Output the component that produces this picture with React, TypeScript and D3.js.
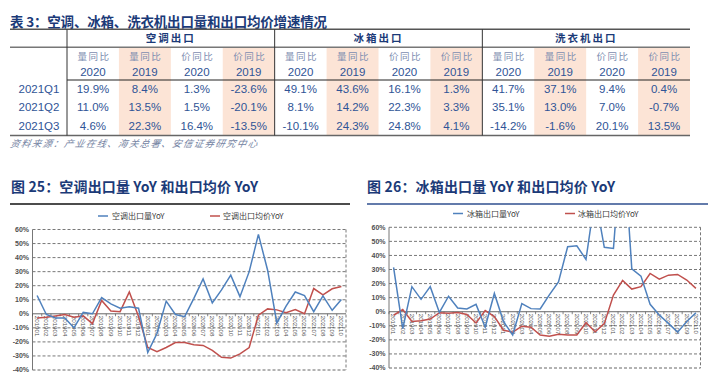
import React from "react";
import * as d3 from "d3";

const tableTitle = "表 3：空调、冰箱、洗衣机出口量和出口均价增速情况";
const tableGroups = ["空调出口", "冰箱出口", "洗衣机出口"];
const subMetrics = ["量同比", "量同比", "价同比", "价同比"];
const subYears = ["2020", "2019", "2020", "2019"];
const rowLabels = ["2021Q1", "2021Q2", "2021Q3"];
const acTable = [
  [19.9, 8.4, 1.3, -23.6],
  [11.0, 13.5, 1.5, -20.1],
  [4.6, 22.3, 16.4, -13.5],
];
const fridgeTable = [
  [49.1, 43.6, 16.1, 1.3],
  [8.1, 14.2, 22.3, 3.3],
  [-10.1, 24.3, 24.8, 4.1],
];
const washerTable = [
  [41.7, 37.1, 9.4, 0.4],
  [35.1, 13.0, 7.0, -0.7],
  [-14.2, -1.6, 20.1, 13.5],
];
const sourceText = "资料来源：产业在线、海关总署、安信证券研究中心";

const months = [
  "201901", "201902", "201903", "201904", "201905", "201906", "201907", "201908", "201909", "201910", "201911", "201912",
  "202001", "202002", "202003", "202004", "202005", "202006", "202007", "202008", "202009", "202010", "202011", "202012",
  "202101", "202102", "202103", "202104", "202105", "202106", "202107", "202108", "202109", "202110",
];
const yTicks = [60, 50, 40, 30, 20, 10, 0, -10, -20, -30, -40];

const chart1Title = "图 25：空调出口量 YoY 和出口均价 YoY";
const acVolumeName = "空调出口量YoY";
const acPriceName = "空调出口均价YoY";
const acVolume = [13, -0.5, -3, -3, -10, 1, 0, 11.5, 7, 4, 5, 4, -27.5, -14, 9, -0.5, -2, 11, 24.8, 7.8, 17, 27.5, 12.2, 30, 56.5, 31, -6.5, 5.5, 15.5, 13, 1.5, 12.7, 2.5, 10.2];
const acPrice = [-3, -2.5, -1.5, -0.5, -2.5, -1.5, -7, 9.5, 2, 1.5, 15.5, -2, -24, -27, -24, -20.5, -20.5, -22, -22.5, -26, -31, -31.5, -28.5, -24, -1, 3.5, 2.8, 0.8, 3, 0, 18, 13.5, 17.8, 19.5];

const chart2Title = "图 26：冰箱出口量 YoY 和出口均价 YoY";
const frVolumeName = "冰箱出口量YoY";
const frPriceName = "冰箱出口均价YoY";
const frVolume = [31.5, -12, 17.8, 8.8, 17.8, -0.5, 11, 2.7, 2, 5.2, -11, 13, -7, -16.5, 5.8, 2.2, 2, 12, 21.2, 46.2, 46.8, 37.2, 82, 45.8, 45, 130, 30.5, 25.3, 5.3, -2.4, -8.3, -14.5, -7, -0.7];
const frPrice = [-2.5, 1.5, -7, -6.4, -5.2, -0.7, -1, -0.5, -2, -8, 0.8, -3.5, -13.2, -14.5, -10.3, -11, -16.6, -17.5, -16, -16.5, -16.5, -7.8, -14.3, -8.5, 11.8, 22.3, 16.1, 17.8, 27.2, 23.2, 26, 26.5, 22.5, 16.6];

const CJK = "'Noto Sans CJK SC', sans-serif";
const LAT = "'Liberation Sans', Arial, sans-serif";
const NAVY = "#1b3a78";
const NUM = "#2f5496";
const SUB = "#7c8db0";
const BLUE = "#4f81bd";
const RED = "#c0504d";

function Table() {
  const left = 10, right = 690, labelW = 57;
  const groupX = d3.scaleBand<number>().domain([0, 1, 2]).range([left + labelW, right]);
  const gw = groupX.bandwidth();
  const colW = gw / 4;
  const rowY = d3.scaleOrdinal<string, number>().domain(rowLabels).range([88.3, 106.8, 125.6]);
  const tables = [acTable, fridgeTable, washerTable];
  return (
    <g>
      <text x={10} y={26.5} fontFamily={CJK} fontWeight={700} fontSize={13.5} fill={NAVY} textLength={317} lengthAdjust="spacing">{tableTitle}</text>
      {tableGroups.map((g, gi) => {
        const gx = groupX(gi)!;
        return (
          <g key={g}>
            {[1, 3].map((ci) => (
              <rect key={ci} x={gx + ci * colW} y={47.3} width={colW} height={135.5 - 47.3} fill="#fce4d6" />
            ))}
            <text x={gx + gw / 2} y={41.5} textAnchor="middle" fontFamily={CJK} fontWeight={700} fontSize={10.5} letterSpacing={2} fill={NAVY}>{g}</text>
            {subMetrics.map((m, ci) => (
              <g key={ci}>
                <text x={gx + (ci + 0.5) * colW + 1} y={59.5} textAnchor="middle" fontFamily={CJK} fontSize={9.5} letterSpacing={1.5} fill={SUB}>{m}</text>
                <text x={gx + (ci + 0.5) * colW} y={76} textAnchor="middle" fontFamily={LAT} fontSize={11.5} fill={NUM}>{subYears[ci]}</text>
              </g>
            ))}
            {tables[gi].map((row, ri) => row.map((v, ci) => (
              <text key={ri + "-" + ci} x={gx + (ci + 0.5) * colW} y={rowY(rowLabels[ri]) + 4.2} textAnchor="middle" fontFamily={LAT} fontSize={11.5} fill={NUM}>{v.toFixed(1) + "%"}</text>
            )))}
          </g>
        );
      })}
      {rowLabels.map((r) => (
        <text key={r} x={39} y={rowY(r) + 4.2} textAnchor="middle" fontFamily={LAT} fontSize={11.5} fill={NUM}>{r}</text>
      ))}
      <line x1={left} x2={right} y1={29.3} y2={29.3} stroke="#555" strokeWidth={1.5} />
      <line x1={left} x2={right} y1={47.3} y2={47.3} stroke="#777" strokeWidth={1.6} />
      <line x1={left + labelW} x2={right} y1={80} y2={80} stroke="#222" strokeWidth={1} />
      <line x1={left} x2={right} y1={135.5} y2={135.5} stroke="#666" strokeWidth={1.6} />
      {[0, 1, 2].map((gi) => (
        <line key={gi} x1={groupX(gi)!} x2={groupX(gi)!} y1={29.3} y2={135.5} stroke="#333" strokeWidth={1} />
      ))}
      <text x={10} y={147.5} fontFamily={CJK} fontStyle="italic" fontSize={9.5} fill="#7584a3" textLength={247} lengthAdjust="spacing" transform="skewX(-12) translate(31,0)">{sourceText}</text>
    </g>
  );
}

interface ChartProps {
  title: string; titleX: number; titleLen: number;
  ruleX1: number; ruleX2: number; ruleColor: string;
  left: number; right: number; top: number; bottom: number;
  legendY: number; leg1X: number; leg2X: number;
  name1: string; name2: string; s1: number[]; s2: number[]; id: string;
}

function LineChart(p: ChartProps) {
  const x = d3.scaleBand<string>().domain(months).range([p.left, p.right]);
  const y = d3.scaleLinear().domain([-40, 60]).range([p.bottom, p.top]);
  const cx = (m: string) => x(m)! + x.bandwidth() / 2;
  const line = d3.line<number>().x((_, i) => cx(months[i])).y((v) => y(v));
  const labelColor = "#404040";
  return (
    <g>
      <text x={p.titleX} y={192} fontFamily={CJK} fontWeight={700} fontSize={14} fill={NAVY} textLength={p.titleLen} lengthAdjust="spacing">{p.title}</text>
      <line x1={p.ruleX1} x2={p.ruleX2} y1={204} y2={204} stroke={p.ruleColor} strokeWidth={1.5} />
      <line x1={p.leg1X} x2={p.leg1X + 10} y1={p.legendY} y2={p.legendY} stroke={BLUE} strokeWidth={1.5} />
      <text x={p.leg1X + 14} y={p.legendY + 3} fontFamily={CJK} fontSize={8} fill={labelColor}>{p.name1}</text>
      <line x1={p.leg2X} x2={p.leg2X + 10} y1={p.legendY} y2={p.legendY} stroke={RED} strokeWidth={1.5} />
      <text x={p.leg2X + 13} y={p.legendY + 3} fontFamily={CJK} fontSize={8} fill={labelColor}>{p.name2}</text>
      {yTicks.map((t) => (
        <g key={t}>
          {t !== 0 && t !== -40 && (
            <line x1={p.left} x2={p.right} y1={y(t)} y2={y(t)} stroke="#555" strokeWidth={0.8} strokeDasharray="3,2" />
          )}
          <text x={p.left - 3.5} y={y(t) + 2.4} textAnchor="end" fontFamily={LAT} fontSize={7} fontWeight={700} fill="#505050">{t + "%"}</text>
        </g>
      ))}
      <line x1={p.left} x2={p.right} y1={p.bottom} y2={p.bottom} stroke="#555" strokeWidth={0.9} strokeDasharray="3,2" />
      <line x1={p.right} x2={p.right} y1={p.top} y2={p.bottom} stroke="#555" strokeWidth={0.8} strokeDasharray="3,2" />
      <line x1={p.left} x2={p.left} y1={p.top} y2={p.bottom} stroke="#777" strokeWidth={1} />
      <line x1={p.left} x2={p.right} y1={y(0)} y2={y(0)} stroke="#555" strokeWidth={0.9} />
      {months.map((m) => (
        <g key={m}>
          <line x1={x(m)!} x2={x(m)!} y1={y(0)} y2={y(0) + 2.5} stroke="#555" strokeWidth={0.7} />
          <text transform={`translate(${cx(m)},${y(0) + 2}) rotate(90)`} dy="0.35em" fontFamily={LAT} fontSize={6.2} fill="#505050">{m}</text>
        </g>
      ))}
      <clipPath id={p.id}>
        <rect x={p.left} y={p.top} width={p.right - p.left} height={p.bottom - p.top} />
      </clipPath>
      <g clipPath={`url(#${p.id})`}>
        <path d={line(p.s2)!} fill="none" stroke={RED} strokeWidth={1.5} />
        <path d={line(p.s1)!} fill="none" stroke={BLUE} strokeWidth={1.5} />
      </g>
    </g>
  );
}

export default function App() {
  return (
    <svg width={708} height={377} style={{ position: "absolute", left: 0, top: 0, background: "#fff" }}>
      <rect width={708} height={377} fill="#fff" />
      <Table />
      <LineChart id="c1" title={chart1Title} titleX={11} titleLen={247} ruleX1={10} ruleX2={350} ruleColor="#111"
        left={32.5} right={346} top={229.5} bottom={370} legendY={216} leg1X={98} leg2X={210}
        name1={acVolumeName} name2={acPriceName} s1={acVolume} s2={acPrice} />
      <LineChart id="c2" title={chart2Title} titleX={367} titleLen={248} ruleX1={367} ruleX2={708} ruleColor="#2f4f8f"
        left={389} right={700.5} top={227.3} bottom={368} legendY={213.5} leg1X={453} leg2X={565}
        name1={frVolumeName} name2={frPriceName} s1={frVolume} s2={frPrice} />
    </svg>
  );
}
